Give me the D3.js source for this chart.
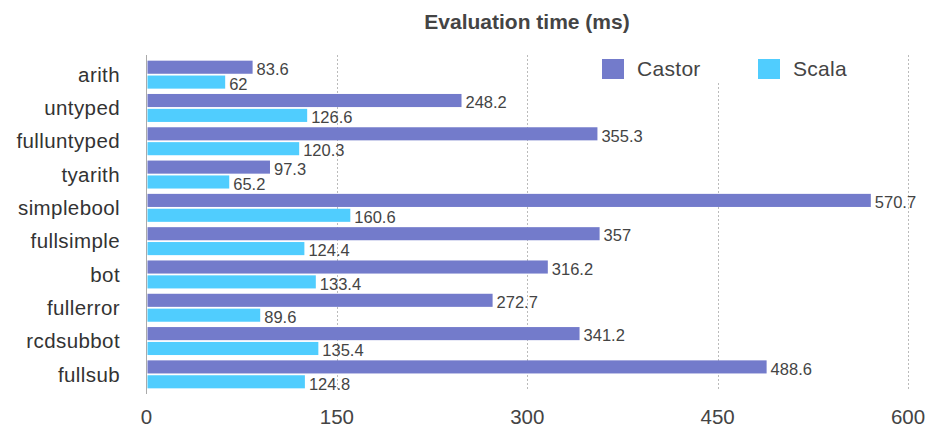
<!DOCTYPE html>
<html>
<head>
<meta charset="utf-8">
<script src="https://cdn.jsdelivr.net/npm/d3@7"></script>
<style>
  body { margin: 0; background: #fff; }
  svg { display: block; font-family: "Helvetica Neue", Helvetica, "Liberation Sans", Arial, sans-serif; }
</style>
</head>
<body>
<svg id="chart" width="928" height="428"></svg>
<script>
const categories = ["arith", "untyped", "fulluntyped", "tyarith", "simplebool",
  "fullsimple", "bot", "fullerror", "rcdsubbot", "fullsub"];
const castor = [83.6, 248.2, 355.3, 97.3, 570.7, 357, 316.2, 272.7, 341.2, 488.6];
const scala = [62, 126.6, 120.3, 65.2, 160.6, 124.4, 133.4, 89.6, 135.4, 124.8];
const seriesNames = ["Castor", "Scala"];
const xTicks = [0, 150, 300, 450, 600];

const colors = {Castor: "#737bcb", Scala: "#50cdfe"};
const margin = {top: 58, left: 146.5};

const svg = d3.select("#chart");

const x = d3.scaleLinear().domain([0, 600]).range([margin.left, 908]);
const y = d3.scaleBand().domain(categories)
  .range([margin.top, 391]).paddingInner(0.16).paddingOuter(0.08);
const ySub = d3.scaleBand().domain(seriesNames)
  .range([0, y.bandwidth()]).paddingInner(0.12);

// dashed vertical grid
svg.append("g")
  .selectAll("line")
  .data(xTicks.slice(1))
  .join("line")
  .attr("x1", d => Math.round(x(d)) + 0.5)
  .attr("x2", d => Math.round(x(d)) + 0.5)
  .attr("y1", 55).attr("y2", 391)
  .attr("stroke", "#bbb")
  .attr("stroke-dasharray", "2,2");

// y axis line
svg.append("line")
  .attr("x1", x(0)).attr("x2", x(0))
  .attr("y1", 55).attr("y2", 394)
  .attr("stroke", "#aaa");

// x tick labels
svg.append("g")
  .selectAll("text")
  .data(xTicks)
  .join("text")
  .attr("x", d => x(d))
  .attr("y", 424)
  .attr("text-anchor", "middle")
  .attr("fill", "#444")
  .attr("font-size", 20.5)
  .text(d => d);

// category labels
svg.append("g")
  .selectAll("text")
  .data(categories)
  .join("text")
  .attr("x", 120)
  .attr("y", d => y(d) + y.bandwidth() / 2)
  .attr("dy", "0.35em")
  .attr("text-anchor", "end")
  .attr("fill", "#333")
  .attr("font-size", 20.5)
  .attr("letter-spacing", 0.4)
  .text(d => d);

const rows = categories.map((c, i) => ({cat: c, values: [
  {name: "Castor", value: castor[i]},
  {name: "Scala", value: scala[i]}
]}));

const groups = svg.append("g")
  .selectAll("g")
  .data(rows)
  .join("g")
  .attr("transform", d => `translate(0,${y(d.cat)})`);

groups.selectAll("rect")
  .data(d => d.values)
  .join("rect")
  .attr("x", x(0) + 1)
  .attr("y", d => ySub(d.name))
  .attr("width", d => x(d.value) - x(0) - 1)
  .attr("height", ySub.bandwidth())
  .attr("fill", d => colors[d.name]);

groups.selectAll("text")
  .data(d => d.values)
  .join("text")
  .attr("x", d => x(d.value) + 4)
  .attr("y", d => ySub(d.name) + ySub.bandwidth() / 2 + 2)
  .attr("dy", "0.35em")
  .attr("fill", "#444")
  .attr("font-size", 16.5)
  .text(d => d.value);

// legend, white box hides the grid under it
const legend = svg.append("g");
legend.append("rect")
  .attr("x", 590).attr("y", 50).attr("width", 280).attr("height", 32)
  .attr("fill", "#fff");
const items = legend.selectAll("g")
  .data(seriesNames)
  .join("g")
  .attr("transform", (d, i) => `translate(${602 + i * 156},59)`);
items.append("rect")
  .attr("width", 22).attr("height", 20)
  .attr("fill", d => colors[d]);
items.append("text")
  .attr("x", 35).attr("y", 10)
  .attr("dy", "0.35em")
  .attr("fill", "#444")
  .attr("font-size", 21)
  .attr("letter-spacing", 0.3)
  .text(d => d);

// title
svg.append("text")
  .attr("x", 527).attr("y", 29)
  .attr("text-anchor", "middle")
  .attr("font-weight", "bold")
  .attr("font-size", 21)
  .attr("fill", "#444")
  .text("Evaluation time (ms)");
</script>
</body>
</html>
